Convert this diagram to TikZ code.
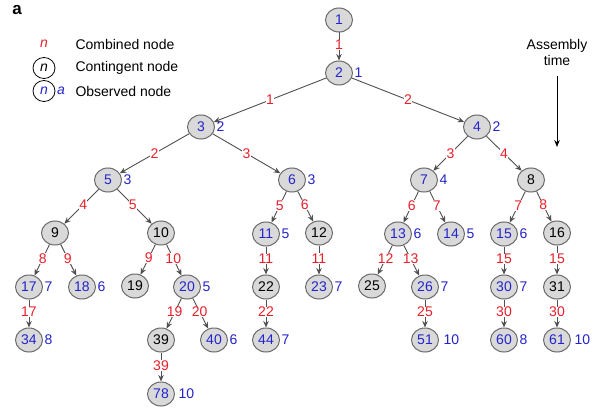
\documentclass[tikz,border=0pt]{standalone}
\usepackage{fontspec}
\setmainfont{Liberation Sans}
\usetikzlibrary{shapes.geometric,arrows.meta}
\definecolor{cred}{HTML}{E8202A}
\definecolor{cblue}{HTML}{2424CC}
\definecolor{nfill}{HTML}{D9D9D9}
\definecolor{nline}{HTML}{6A6A6A}
\definecolor{eline}{HTML}{505050}
\begin{document}
\begin{tikzpicture}[x=1pt,y=-1pt,label distance=1.5pt,
  txt/.style={font=\fontsize{14}{16}\selectfont},
  nd/.style={ellipse,draw=nline,line width=1pt,fill=nfill,minimum width=27pt,minimum height=24pt,inner sep=0pt,txt},
  obs/.style={nd,text=cblue},
  con/.style={nd,text=black},
  sl/.style={text=cblue,inner sep=0pt,txt},
  e/.style={draw=eline,line width=0.9pt,-{Stealth[length=6.5pt,width=5.5pt]}},
  el/.style={text=cred,inner sep=0.3pt,fill=white,txt,pos=.45},
  lg/.style={ellipse,draw=black,line width=0.8pt,fill=white,minimum width=22pt,minimum height=21pt,inner sep=0pt,txt}
]
\fill[white] (0,0) rectangle (604,414);
\useasboundingbox (0,0) rectangle (604,414);

% panel letter
\node[font=\fontsize{17}{18}\selectfont\bfseries] (pa) at (17,10) {a};

% legend
\node[text=cred,txt] (ln) at (44,44) {\itshape n};
\node[txt,anchor=west] (lt1) at (72,44) {Combined node};
\node[lg] (lc) at (44,68) {\itshape n};
\node[txt,anchor=west] (lt2) at (72,68) {Contingent node};
\node[lg,text=cblue] (lo) at (44,91) {\itshape n};
\node[text=cblue,txt] (la) at (61,91) {\itshape a};
\node[txt,anchor=west] (lt3) at (72,91) {Observed node};

% assembly time
\node[txt,align=center] (at) at (557,52) {Assembly\\time};
\coordinate (a1) at (557,76);
\coordinate (a2) at (557,147);
\draw[line width=1pt,-{Stealth[length=7pt,width=5.5pt]}] (a1) -- (a2);

% nodes
\node[obs] (n1) at (339,20) {1};
\node[obs,label={[sl]right:1}] (n2) at (339,73) {2};
\node[obs,label={[sl]right:2}] (n3) at (201,127) {3};
\node[obs,label={[sl]right:2}] (n4) at (477,127) {4};
\node[obs,label={[sl]right:3}] (n5) at (108,180) {5};
\node[obs,label={[sl]right:3}] (n6) at (292,180) {6};
\node[obs,label={[sl]right:4}] (n7) at (424,180) {7};
\node[con] (n8) at (531,180) {8};
\node[con] (n9) at (55,233) {9};
\node[con] (n10) at (161,233) {10};
\node[obs,label={[sl]right:5}] (n11) at (266,234) {11};
\node[con] (n12) at (319,233) {12};
\node[obs,label={[sl]right:6}] (n13) at (398,234) {13};
\node[obs,label={[sl]right:5}] (n14) at (451,234) {14};
\node[obs,label={[sl]right:6}] (n15) at (504,234) {15};
\node[con] (n16) at (557,233) {16};
\node[obs,label={[sl]right:7}] (n17) at (29,287) {17};
\node[obs,label={[sl]right:6}] (n18) at (82,287) {18};
\node[con] (n19) at (135,286) {19};
\node[obs,label={[sl]right:5}] (n20) at (187,287) {20};
\node[con] (n22) at (266,287) {22};
\node[obs,label={[sl]right:7}] (n23) at (319,287) {23};
\node[con] (n25) at (372,286) {25};
\node[obs,label={[sl]right:7}] (n26) at (425,287) {26};
\node[obs,label={[sl]right:7}] (n30) at (504,287) {30};
\node[con] (n31) at (557,287) {31};
\node[obs,label={[sl]right:8}] (n34) at (29,340) {34};
\node[con] (n39) at (161,340) {39};
\node[obs,label={[sl]right:6}] (n40) at (214,340) {40};
\node[obs,label={[sl]right:7}] (n44) at (266,340) {44};
\node[obs,label={[sl,xshift=3pt]right:10}] (n51) at (425,340) {51};
\node[obs,label={[sl]right:8}] (n60) at (504,340) {60};
\node[obs,label={[sl,xshift=2pt]right:10}] (n61) at (557,340) {61};
\node[obs,label={[sl,xshift=2pt]right:10}] (n78) at (161,394) {78};

% edges
\draw[e] (n1) -- node[el]{1} (n2);
\draw[e] (n2) -- node[el,pos=.5]{1} (n3);
\draw[e] (n2) -- node[el,pos=.5]{2} (n4);
\draw[e] (n3) -- node[el,pos=.5]{2} (n5);
\draw[e] (n3) -- node[el,pos=.5]{3} (n6);
\draw[e] (n4) -- node[el,pos=.5]{3} (n7);
\draw[e] (n4) -- node[el,pos=.5]{4} (n8);
\draw[e] (n5) -- node[el]{4} (n9);
\draw[e] (n5) -- node[el]{5} (n10);
\draw[e] (n6) -- node[el]{5} (n11);
\draw[e] (n6) -- node[el]{6} (n12);
\draw[e] (n7) -- node[el]{6} (n13);
\draw[e] (n7) -- node[el]{7} (n14);
\draw[e] (n8) -- node[el]{7} (n15);
\draw[e] (n8) -- node[el]{8} (n16);
\draw[e] (n9) -- node[el]{8} (n17);
\draw[e] (n9) -- node[el]{9} (n18);
\draw[e] (n10) -- node[el]{9} (n19);
\draw[e] (n10) -- node[el]{10} (n20);
\draw[e] (n11) -- node[el]{11} (n22);
\draw[e] (n12) -- node[el]{11} (n23);
\draw[e] (n13) -- node[el]{12} (n25);
\draw[e] (n13) -- node[el]{13} (n26);
\draw[e] (n15) -- node[el]{15} (n30);
\draw[e] (n16) -- node[el]{15} (n31);
\draw[e] (n17) -- node[el]{17} (n34);
\draw[e] (n20) -- node[el]{19} (n39);
\draw[e] (n20) -- node[el]{20} (n40);
\draw[e] (n22) -- node[el]{22} (n44);
\draw[e] (n26) -- node[el]{25} (n51);
\draw[e] (n30) -- node[el]{30} (n60);
\draw[e] (n31) -- node[el]{30} (n61);
\draw[e] (n39) -- node[el]{39} (n78);
\end{tikzpicture}
\end{document}
